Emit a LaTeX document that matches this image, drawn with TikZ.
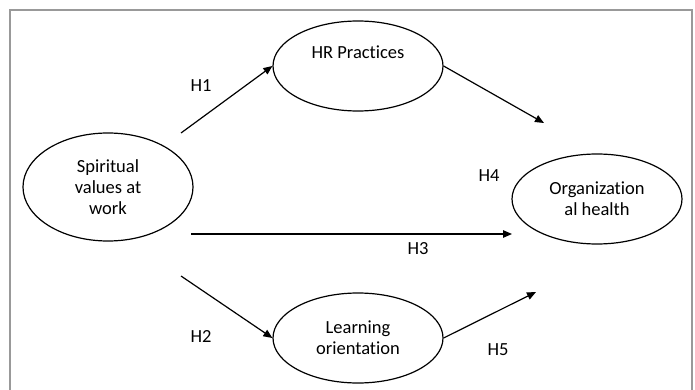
\documentclass[tikz,border=0pt]{standalone}
\usepackage{fontspec}
\setmainfont{Carlito}[Ligatures=NoCommon]
\usetikzlibrary{arrows.meta,shapes.geometric}

\begin{document}
\begin{tikzpicture}[x=1pt,y=-1pt,
  construct/.style={draw,ellipse,line width=1.2pt,inner sep=0pt,align=center,
    minimum width=170pt,minimum height=90pt,font=\fontsize{18.5}{21}\selectfont},
  hyp/.style={font=\fontsize{18.5}{21}\selectfont},
  link/.style={line width=1.2pt,-{Triangle[length=9pt,width=7.5pt]}}]
  \useasboundingbox (0,0) rectangle (695,390);

  % outer frame, open at the bottom
  \draw[gray!80,line width=1.5pt] (10,390) -- (10,10) -- (692,10) -- (692,390);

  % constructs
  \node[construct,minimum height=108pt] (spirit) at (108,187) {Spiritual\\values at\\work};
  \node[construct,label={[hyp,yshift=14pt]center:HR Practices}] (hr) at (358,66) {};
  \node[construct] (lo) at (358,338) {Learning\\orientation};
  \node[construct] (org) at (597,199) {Organization\\al health};

  % free ends of the paths
  \coordinate (h1s) at (181,133);
  \coordinate (h2s) at (181,276);
  \coordinate (h3s) at (191,234);
  \coordinate (h3e) at (512,234);
  \coordinate (h4e) at (544,123);
  \coordinate (h5e) at (536,292);

  % paths
  \draw[link] (h1s) -- (hr.west);
  \draw[link] (h2s) -- (lo.west);
  \draw[link] (h3s) -- (h3e);
  \draw[link] (hr.east) -- (h4e);
  \draw[link] (lo.east) -- (h5e);

  % hypothesis labels
  \node[hyp] (h1) at (201,86) {H1};
  \node[hyp] (h2) at (201,336) {H2};
  \node[hyp] (h3) at (418,249) {H3};
  \node[hyp] (h4) at (489,176) {H4};
  \node[hyp] (h5) at (498,350) {H5};
\end{tikzpicture}
\end{document}
